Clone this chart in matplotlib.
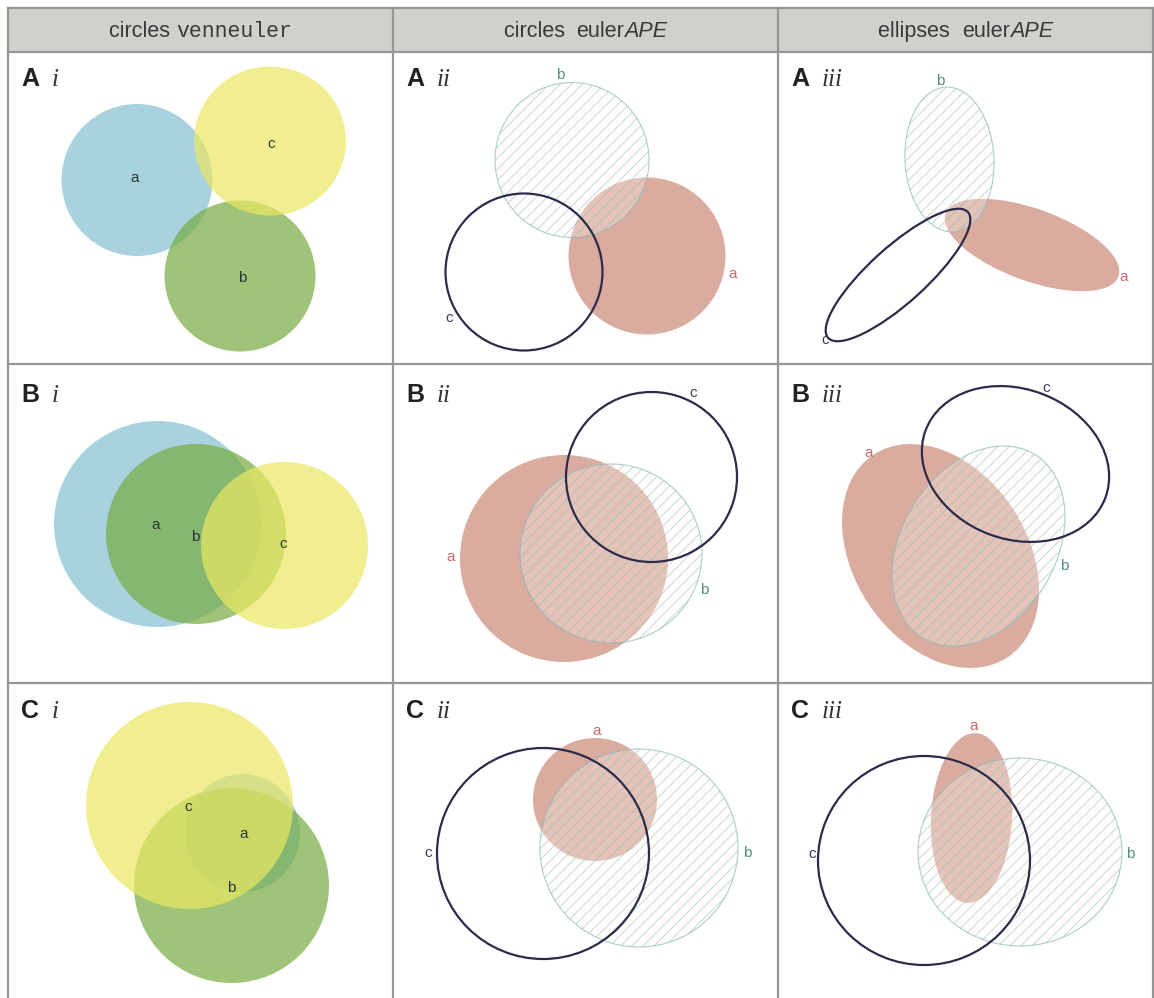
import matplotlib
matplotlib.use('Agg')
import matplotlib.pyplot as plt
from matplotlib.patches import Ellipse, Rectangle
from matplotlib.offsetbox import TextArea, HPacker, AnnotationBbox

plt.rcParams['hatch.linewidth'] = 0.5

# panels in reading order
panels = ['Ai', 'Aii', 'Aiii', 'Bi', 'Bii', 'Biii', 'Ci', 'Cii', 'Ciii']
row_letters = ['A', 'B', 'C']
numerals = ['i', 'ii', 'iii']
set_names = ['a', 'b', 'c']
header_parts = [
    [('circles ', 'sans'), ('venneuler', 'mono')],
    [('circles  ', 'sans'), ('euler', 'sans'), ('APE', 'italic')],
    [('ellipses  ', 'sans'), ('euler', 'sans'), ('APE', 'italic')],
]

# shape geometry per panel (pixel units of the page): centre, width, height, angle
a_x = [137, 647, 1032, 157.5, 564, 940.5, 242.5, 595, 971.5]
a_y = [180, 256, 245, 524, 558.5, 556, 833, 799.5, 818]
a_w = [151, 157, 184, 207, 208, 243, 115, 124, 170]
a_h = [152, 157, 72, 206, 207, 173, 118, 123, 81]
a_ang = [0, 0, 20, 0, 0, 56.5, 0, 0, -87]

b_x = [240, 572, 949.5, 196, 611, 978.5, 231.5, 639, 1020]
b_y = [276, 160, 159.5, 534, 553.5, 546, 885.5, 848, 852]
b_w = [151, 154, 145, 180, 182, 215, 195, 198, 204]
b_h = [151, 155, 89, 180, 179, 154, 195, 198, 188]
b_ang = [0, 0, 87, 0, 0, -58.3, 0, 0, 0]

c_x = [270, 524, 898, 284.5, 651.5, 1015.5, 189.5, 543, 924]
c_y = [141, 272, 275, 545.5, 477, 464, 805.5, 853.5, 860.5]
c_w = [152, 157, 188, 167, 171, 192, 207, 212, 212]
c_h = [149, 157, 56, 167, 170, 150, 207, 211, 209]
c_ang = [0, 0, -42, 0, 0, 20.7, 0, 0, 0]

# set label positions
a_lx = [135, 733, 1124, 156, 451, 869, 244, 597, 974]
a_ly = [178, 274, 277, 525, 557, 453, 834, 731, 726]
b_lx = [242, 560, 940, 195, 704, 1064, 231, 747, 1130]
b_ly = [278, 75, 81, 537, 590, 566, 888, 853, 854]
c_lx = [271, 449, 825, 283, 693, 1046, 188, 428, 812]
c_ly = [144, 318, 340, 544, 393, 388, 807, 853, 854]

col_edges = [8, 393, 778, 1153]
row_edges = [8, 52, 364, 683, 998]
label_base = [86, 402, 718]

fig = plt.figure(figsize=(11.54, 9.98), dpi=100)
ax = fig.add_axes([0, 0, 1, 1])
ax.set_xlim(0, 1154)
ax.set_ylim(998, 0)
ax.axis('off')

# header band and grid
ax.add_patch(Rectangle((col_edges[0], row_edges[0]), col_edges[-1] - col_edges[0],
                       row_edges[1] - row_edges[0], fc='#ced1cc', ec='none', zorder=0))
grid_col = '#969696'
for y in row_edges[:-1]:
    ax.plot([col_edges[0], col_edges[-1]], [y, y], color=grid_col, lw=1.6, zorder=5)
for x in col_edges:
    ax.plot([x, x], [row_edges[0], row_edges[-1]], color=grid_col, lw=1.6, zorder=5)

fonts = {'sans': dict(family='Liberation Sans', fontsize=15.5, color='#3a3a3a'),
         'mono': dict(family='Liberation Mono', fontsize=15.5, color='#3a3a3a'),
         'italic': dict(family='Liberation Sans', fontsize=15.5, style='italic', color='#3a3a3a')}
for j, parts in enumerate(header_parts):
    boxes = [TextArea(t, textprops=fonts[f]) for t, f in parts]
    pack = HPacker(children=boxes, align='baseline', pad=0, sep=0)
    xc = (col_edges[j] + col_edges[j + 1]) / 2
    ab = AnnotationBbox(pack, (xc, 31), xycoords='data', frameon=False,
                        box_alignment=(0.5, 0.5), pad=0)
    ax.add_artist(ab)

ven_cols = ['#84c0d0', '#77ac41', '#ebe862']
red_fill = '#daac9f'
hatch_edge = (0.55, 0.72, 0.72, 0.7)
b_face = (1.0, 0.98, 0.95, 0.3)
c_edge = '#2c2c4a'
lab_cols = ['#c96a6a', '#4f8f7c', '#3c3c55']

for k, p in enumerate(panels):
    col = k % 3
    row = k // 3
    ea = Ellipse((a_x[k], a_y[k]), a_w[k], a_h[k], angle=a_ang[k])
    eb = Ellipse((b_x[k], b_y[k]), b_w[k], b_h[k], angle=b_ang[k])
    ec = Ellipse((c_x[k], c_y[k]), c_w[k], c_h[k], angle=c_ang[k])
    if col == 0:
        for e, fc in zip([ea, eb, ec], ven_cols):
            e.set_facecolor(fc)
            e.set_alpha(0.7)
            e.set_edgecolor('none')
            ax.add_patch(e)
        tcols = ['#2a3535'] * 3
    else:
        ea.set_facecolor(red_fill)
        ea.set_edgecolor('none')
        ax.add_patch(ea)
        eb.set_facecolor(b_face)
        eb.set_edgecolor(hatch_edge)
        eb.set_linewidth(0.8)
        eb.set_hatch('///')
        ax.add_patch(eb)
        ec.set_facecolor('none')
        ec.set_edgecolor(c_edge)
        ec.set_linewidth(1.6)
        ax.add_patch(ec)
        tcols = lab_cols
    for (lx, ly), tc, name in zip([(a_lx[k], a_ly[k]), (b_lx[k], b_ly[k]), (c_lx[k], c_ly[k])],
                                  tcols, set_names):
        ax.text(lx, ly, name, ha='center', va='center', fontsize=11,
                family='Liberation Sans', color=tc, zorder=6)

    left = col_edges[col]
    ax.text(left + 13, label_base[row], row_letters[row], fontsize=18, fontweight='bold',
            family='Liberation Sans', color='#222222', va='baseline', ha='left', zorder=6)
    ax.text(left + 44, label_base[row], numerals[col], fontsize=18, style='italic',
            family='Liberation Serif', color='#333333', va='baseline', ha='left', zorder=6)

fig.savefig('out.png', dpi=100)
